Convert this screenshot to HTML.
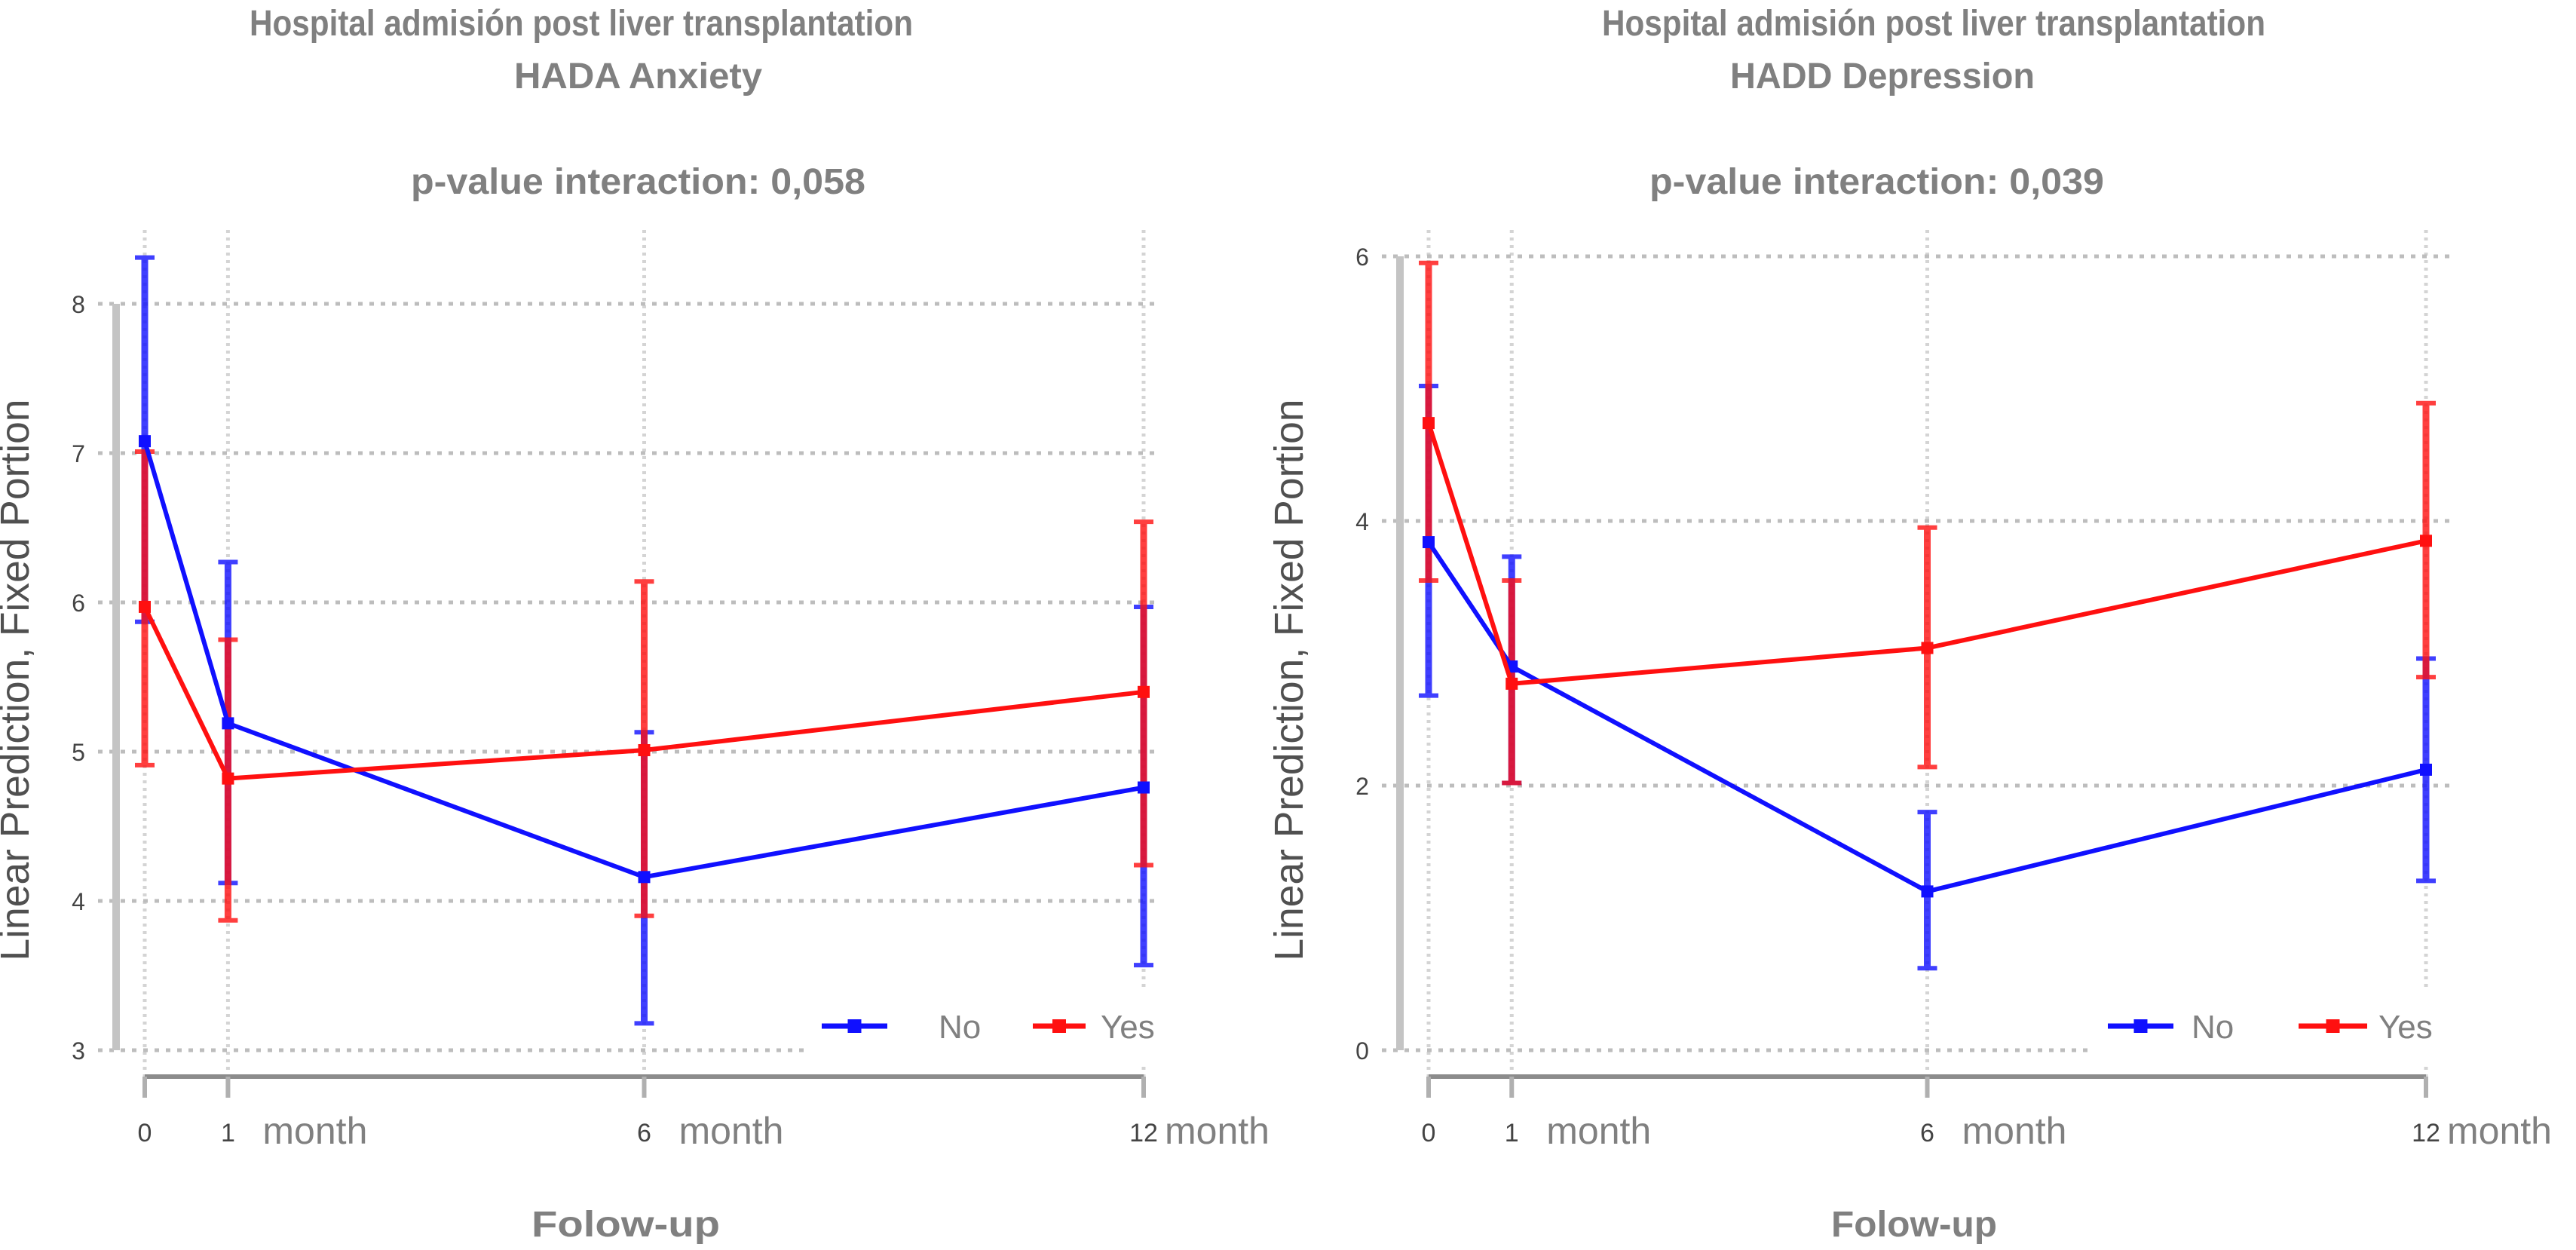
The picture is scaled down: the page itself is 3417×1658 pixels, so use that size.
<!DOCTYPE html>
<html><head><meta charset="utf-8"><style>
html,body{margin:0;padding:0;background:#fff;}
svg{display:block;}
text{font-family:"Liberation Sans",sans-serif;}
</style></head><body>
<svg id="fig" width="3417" height="1658" viewBox="0 0 3417 1658" xmlns="http://www.w3.org/2000/svg">
<g fill="#808080" font-weight="bold" font-size="48">
<text x="331" y="47" textLength="880" lengthAdjust="spacingAndGlyphs">Hospital admisión post liver transplantation</text>
<text x="682" y="117" textLength="329" lengthAdjust="spacingAndGlyphs">HADA Anxiety</text>
<text x="545" y="257" textLength="603" lengthAdjust="spacingAndGlyphs">p-value interaction: 0,058</text>
<text x="705" y="1640" textLength="250" lengthAdjust="spacingAndGlyphs">Folow-up</text>
</g>
<g fill="#808080" font-weight="bold" font-size="48">
<text x="2125" y="47" textLength="880" lengthAdjust="spacingAndGlyphs">Hospital admisión post liver transplantation</text>
<text x="2295" y="117" textLength="404" lengthAdjust="spacingAndGlyphs">HADD Depression</text>
<text x="2188" y="257" textLength="603" lengthAdjust="spacingAndGlyphs">p-value interaction: 0,039</text>
<text x="2429" y="1640" textLength="220" lengthAdjust="spacingAndGlyphs">Folow-up</text>
</g>
</svg>
<script>
// shared x categories
const months = [0, 1, 6, 12];
const xTickLabels = ["0", "1", "6", "12"];
// left panel: HADA Anxiety
const anxNoMean = [7.08, 5.19, 4.16, 4.76];
const anxNoLow = [5.87, 4.12, 3.18, 3.57];
const anxNoHigh = [8.31, 6.27, 5.13, 5.97];
const anxYesMean = [5.97, 4.82, 5.01, 5.40];
const anxYesLow = [4.91, 3.87, 3.90, 4.24];
const anxYesHigh = [7.01, 5.75, 6.14, 6.54];
const anxYTicks = [3, 4, 5, 6, 7, 8];
// right panel: HADD Depression
const depNoMean = [3.84, 2.90, 1.20, 2.12];
const depNoLow = [2.68, 2.02, 0.62, 1.28];
const depNoHigh = [5.02, 3.73, 1.80, 2.96];
const depYesMean = [4.74, 2.77, 3.04, 3.85];
const depYesLow = [3.55, 2.02, 2.14, 2.82];
const depYesHigh = [5.95, 3.55, 3.95, 4.89];
const depYTicks = [0, 2, 4, 6];
const legendLabels = ["No", "Yes"];

const NS = "http://www.w3.org/2000/svg";
const svg = document.getElementById("fig");
function mk(tag, attrs, parent) {
  const e = document.createElementNS(NS, tag);
  for (const k in attrs) e.setAttribute(k, attrs[k]);
  (parent || svg).appendChild(e);
  return e;
}

function panel(cfg) {
  const g = mk("g", {});
  
  
  const xs = m => cfg.x0 + (m - 0) * (cfg.x12 - cfg.x0) / 12;
  const ys = v => cfg.yBot - (v - cfg.yMin) * (cfg.yTop - cfg.yBot) / (cfg.yMin - cfg.yMax);
  const yMinPx = ys(cfg.yMin), yMaxPx = ys(cfg.yMax);
  months.forEach((m, i) => {
    const l = mk("line", {x1: xs(m), x2: xs(m), y1: 305, y2: 1428, stroke: "#d4d4d4", "stroke-width": 5, "stroke-dasharray": "4 6"}, g);
    
    
  });
  cfg.yTicks.forEach(v => {
    const l = mk("line", {x1: cfg.axisX - 24, x2: cfg.gridEnd, y1: ys(v), y2: ys(v), stroke: "#bdbdbd", "stroke-width": 5, "stroke-dasharray": "6 9"}, g);
    
    
    const t = mk("text", {x: cfg.axisX - 50, y: ys(v) + 12, "font-size": 32, fill: "#444", "text-anchor": "middle"}, g);
    
    
    t.textContent = String(v);
  });
  const ya = mk("line", {x1: cfg.axisX, x2: cfg.axisX, y1: yMaxPx, y2: yMinPx, stroke: "#c4c4c4", "stroke-width": 10}, g);
  
  
  const xa = mk("line", {x1: xs(0), x2: xs(12), y1: 1428, y2: 1428, stroke: "#8c8c8c", "stroke-width": 6}, g);
  
  
  months.forEach((m, i) => {
    const tk = mk("line", {x1: xs(m), x2: xs(m), y1: 1428, y2: 1456, stroke: "#b0b0b0", "stroke-width": 6}, g);
    
    
    const t = mk("text", {x: xs(m), y: 1514, "font-size": 34, fill: "#444", "text-anchor": "middle"}, g);
    
    
    t.textContent = xTickLabels[i];
    if (m > 0) {
      const mt = mk("text", {x: xs(m) + (m === 12 ? 28 : 46), y: 1517, "font-size": 50, fill: "#808080"}, g);
      
      
      mt.textContent = "month";
    }
  });
  const yt = mk("text", {x: 0, y: 0, "font-size": 54, fill: "#505050", "text-anchor": "middle", transform: "translate(" + (cfg.yLabelX + 18) + ",902) rotate(-90)", textLength: 745, lengthAdjust: "spacingAndGlyphs"}, g);
  
  
  yt.textContent = "Linear Prediction, Fixed Portion";
  const lb = mk("rect", {x: cfg.legX, y: 1310, width: cfg.gridEnd - cfg.legX + 10, height: 100, fill: "#fff"}, g);
  
  
  const series = [
    {name: "no", color: "#1010ff", mean: cfg.noMean, lo: cfg.noLow, hi: cfg.noHigh},
    {name: "yes", color: "#ff1010", mean: cfg.yesMean, lo: cfg.yesLow, hi: cfg.yesHigh}
  ];
  series.forEach(s => {
    months.forEach((m, i) => {
      const eb = mk("g", {opacity: 0.8}, g);
      
      
      mk("line", {x1: xs(m), x2: xs(m), y1: ys(s.lo[i]), y2: ys(s.hi[i]), stroke: s.color, "stroke-width": 9}, eb);
      mk("line", {x1: xs(m) - 13, x2: xs(m) + 13, y1: ys(s.lo[i]), y2: ys(s.lo[i]), stroke: s.color, "stroke-width": 6}, eb);
      mk("line", {x1: xs(m) - 13, x2: xs(m) + 13, y1: ys(s.hi[i]), y2: ys(s.hi[i]), stroke: s.color, "stroke-width": 6}, eb);
    });
  });
  series.forEach(s => {
    const pts = months.map((m, i) => xs(m) + "," + ys(s.mean[i])).join(" ");
    const pl = mk("polyline", {points: pts, fill: "none", stroke: s.color, "stroke-width": 6}, g);
    
    
    months.forEach((m, i) => {
      const r = mk("rect", {x: xs(m) - 8, y: ys(s.mean[i]) - 8, width: 16, height: 16, fill: s.color}, g);
      
      
    });
  });
  [0, 1].forEach(k => {
    const s = series[k];
    const le = mk("g", {}, g);
    
    
    mk("line", {x1: cfg.legLine[k][0], x2: cfg.legLine[k][1], y1: 1361, y2: 1361, stroke: s.color, "stroke-width": 7}, le);
    const c = (cfg.legLine[k][0] + cfg.legLine[k][1]) / 2;
    mk("rect", {x: c - 9, y: 1352, width: 18, height: 18, fill: s.color}, le);
    const t = mk("text", {x: cfg.legText[k], y: 1377, "font-size": 44, fill: "#808080"}, le);
    t.textContent = legendLabels[k];
  });
}

panel({name: "anxiety-chart", x0: 192, x12: 1517, yMin: 3, yMax: 8, yBot: 1393, yTop: 403,
  axisX: 154, gridEnd: 1536, yLabelX: 20, yTicks: anxYTicks,
  noMean: anxNoMean, noLow: anxNoLow, noHigh: anxNoHigh,
  yesMean: anxYesMean, yesLow: anxYesLow, yesHigh: anxYesHigh,
  legX: 1075, legLine: [[1090, 1177], [1370, 1440]], legText: [1245, 1460]});
panel({name: "depression-chart", x0: 1895, x12: 3218, yMin: 0, yMax: 6, yBot: 1393, yTop: 340,
  axisX: 1857, gridEnd: 3253, yLabelX: 1710, yTicks: depYTicks,
  noMean: depNoMean, noLow: depNoLow, noHigh: depNoHigh,
  yesMean: depYesMean, yesLow: depYesLow, yesHigh: depYesHigh,
  legX: 2770, legLine: [[2796, 2883], [3049, 3140]], legText: [2907, 3155]});
</script>
</body></html>
